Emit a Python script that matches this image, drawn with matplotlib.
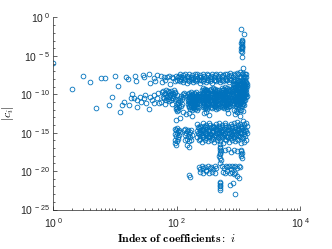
import matplotlib
matplotlib.use("Agg")
import matplotlib.pyplot as plt
from matplotlib.ticker import FixedLocator, FuncFormatter, NullFormatter
import numpy as np

# ---------------- data: index i and log10|c_i| ----------------
sparse_x = [1, 2, 3, 4, 5, 6, 7, 8, 9, 10, 11, 12, 13, 14, 15, 16, 17, 18, 19, 20,
            21, 22, 23, 23, 25, 26, 28, 29, 29, 30, 32, 36, 36, 37, 37, 39, 42, 43, 43, 44,
            47, 48, 50, 52, 55, 57, 58, 59, 61, 64, 65, 67, 69, 73, 74, 78, 78, 83, 83, 88,
            88, 92, 93, 97, 99, 102, 102, 105, 105]
sparse_e = [-5.89, -9.31, -7.58, -8.40, -11.82, -7.84, -7.92, -11.39, -10.39, -7.58, -8.92, -12.34,
            -11.39, -10.96, -7.79, -8.05, -11.39, -10.52, -10.0, -10.52,
            -7.62, -8.31, -10.74, -11.69, -10.31, -10.96, -7.49, -7.79, -10.52, -10.09, -11.09,
            -7.36, -11.96, -8.49, -10.31, -10.74, -10.09, -7.92, -11.17, -8.27,
            -10.52, -7.5, -9.87, -11.17, -7.62, -9.66, -8.4, -10.31, -7.71, -9.87, -8.1, -10.74,
            -7.79, -9.53, -7.6, -10.09, -8.70, -9.79, -7.71, -10.52,
            -7.9, -8.3, -9.66, -7.58, -10.09, -8.14, -11.82, -7.79, -11.17]

s2_x = [60, 63, 66, 70, 74, 78, 82, 86, 90, 94, 62, 68, 72, 76, 80, 85, 89, 95, 56, 65, 75, 84]
s2_e = [-9.6, -9.9, -9.5, -10.2, -9.7, -10.0, -9.6, -9.9, -9.5, -9.8,
        -10.5, -10.3, -10.6, -10.4, -10.8, -10.5, -10.2, -10.6,
        -11.0, -11.2, -10.9, -11.3]

top_x = [108, 112, 118, 124, 131, 137, 144, 152, 160, 168, 176, 185, 195, 205, 216, 227, 239, 251,
         264, 278, 292, 307, 323, 340, 358, 376, 396, 416, 438, 461, 485, 510, 537, 565, 594, 625,
         658, 692, 728, 766, 806, 848, 892, 938, 987, 1038]
top_e1 = [-7.6, -7.4, -7.8, -7.5, -7.7, -7.3, -7.6, -7.8, -7.4, -7.7, -7.5, -7.9, -7.4, -7.6, -7.3,
          -7.7, -7.5, -7.8, -7.4, -7.6, -7.7, -7.3, -7.5, -7.8, -7.6, -7.4, -7.7, -7.5, -7.3, -7.6,
          -7.8, -7.4, -7.6, -7.5, -7.3, -7.7, -7.4, -7.6, -7.2, -7.5, -7.7, -7.3, -7.5, -7.2, -7.4, -7.1]
top_e2 = [-8.1, -8.3, -8.0, -8.4, -8.2, -8.0, -8.5, -8.1, -8.3, -8.0, -8.2, -8.4, -8.1, -8.3, -8.0,
          -8.2, -8.5, -8.1, -8.3, -8.0, -8.4, -8.2, -8.1, -8.3, -8.0, -8.5, -8.2, -8.1, -8.3, -8.0,
          -8.2, -8.4, -8.1, -8.3, -8.0, -8.2, -8.1, -8.4, -8.0, -8.2, -8.3, -8.1, -8.0, -8.2, -8.1, -8.3]

b_x = [96, 98, 100, 103, 106, 108, 111, 114, 117, 120, 124, 128, 132, 136, 100, 105, 110, 115, 120]
b_e = [-11.6, -11.9, -11.2, -11.0, -10.7, -11.4, -10.5, -10.9, -10.2, -10.6, -10.0, -10.3, -9.8,
       -10.1, -12.2, -12.0, -11.7, -11.5, -11.2]

c_x = [152, 158, 163, 170, 176, 183, 190, 197, 205, 212, 220, 228, 236,
       150, 156, 161, 167, 174, 181, 188, 195, 202, 209, 217, 225, 233,
       154, 160, 166, 172, 179, 186, 193, 200, 207, 215, 222, 230,
       158, 165, 171, 178, 185, 192, 199, 206, 214, 221,
       155, 161, 168, 175, 182, 189, 196, 204, 211, 219, 227, 235,
       153, 160, 167, 175, 183, 191, 199, 207, 216, 225,
       160, 170, 180, 190, 200, 210]
c_e = [-10.0, -9.8, -10.1, -9.7, -9.9, -10.2, -9.8, -10.0, -9.7, -10.1, -9.9, -10.2, -10.0,
       -10.6, -10.4, -10.7, -10.5, -10.3, -10.6, -10.8, -10.4, -10.6, -10.5, -10.7, -10.4, -10.6,
       -11.2, -11.0, -11.3, -11.1, -10.9, -11.2, -11.4, -11.0, -11.2, -11.3, -11.0, -11.1,
       -11.7, -11.9, -11.6, -12.0, -11.8, -11.6, -11.9, -11.7, -12.1, -11.8,
       -10.3, -10.2, -10.4, -10.1, -10.3, -10.5, -10.2, -10.4, -10.3, -10.2, -10.4, -10.3,
       -10.9, -10.8, -11.0, -10.7, -10.9, -11.1, -10.8, -10.9, -11.0, -10.8,
       -11.5, -11.4, -11.6, -11.5, -11.4, -11.6]

d_x = [258, 266, 274, 282, 290, 298, 306, 314, 322,
       260, 268, 276, 284, 292, 300, 308, 316, 324,
       262, 270, 278, 286, 294, 302, 310, 318,
       265, 275, 285, 295, 305, 315,
       262, 270, 278, 286, 294, 302, 310, 318, 326,
       258, 266, 274, 282, 290, 298, 306, 314, 322,
       268, 280, 292, 304, 316]
d_e = [-9.4, -9.2, -9.5, -9.3, -9.6, -9.4, -9.7, -9.5, -9.8,
       -10.2, -10.0, -10.3, -10.1, -10.4, -10.2, -10.5, -10.3, -10.6,
       -11.0, -10.8, -11.1, -10.9, -11.2, -11.0, -11.3, -11.1,
       -11.7, -11.5, -11.8, -11.6, -11.9, -11.7,
       -9.8, -9.7, -9.9, -9.6, -9.8, -10.0, -9.7, -9.9, -9.8,
       -10.6, -10.5, -10.7, -10.6, -10.8, -10.5, -10.7, -10.6, -10.8,
       -11.4, -11.3, -11.5, -11.4, -11.3]

e_x = [345, 358, 372, 386, 400, 415, 430, 446, 462, 478, 495,
       350, 364, 378, 393, 408, 423, 438, 454, 470, 487, 504,
       355, 370, 385, 400, 416, 432, 448, 465, 482,
       360, 378, 396, 414, 433, 452, 472,
       352, 366, 380, 394, 408, 423, 438, 454, 470, 487, 504,
       346, 360, 374, 389, 404, 419, 435, 451, 467, 484, 501,
       365, 390, 415, 440, 467, 494]
e_e = [-9.5, -9.3, -9.6, -9.2, -9.4, -9.3, -9.6, -9.4, -9.7, -9.5, -9.8,
       -10.3, -10.1, -10.4, -10.2, -10.0, -10.3, -10.5, -10.2, -10.4, -10.1, -10.3,
       -11.0, -10.8, -11.1, -10.9, -11.2, -11.0, -10.8, -11.1, -11.3,
       -11.6, -11.8, -11.5, -11.7, -11.9, -11.6, -11.8,
       -9.9, -9.8, -10.0, -9.7, -9.9, -9.8, -10.0, -9.9, -10.1, -9.8, -10.0,
       -10.7, -10.6, -10.8, -10.5, -10.7, -10.6, -10.8, -10.7, -10.9, -10.6, -10.7,
       -11.4, -11.3, -11.5, -11.4, -11.3, -11.5]

f_x = [530, 548, 566, 585, 604, 624, 645, 666, 688, 710, 733,
       535, 553, 572, 591, 611, 631, 652, 674, 696, 719,
       540, 560, 580, 600, 621, 643, 665, 688, 712,
       545, 568, 592, 616, 641, 667, 694,
       538, 556, 575, 594, 614, 634, 655, 677, 699, 722,
       532, 550, 569, 588, 608, 628, 649, 671, 693, 716, 738,
       550, 580, 612, 645, 680, 715]
f_e = [-9.4, -9.2, -9.5, -9.3, -9.1, -9.4, -9.2, -9.5, -9.3, -9.6, -9.4,
       -10.2, -10.0, -10.3, -10.1, -10.4, -10.2, -10.0, -10.3, -10.1, -10.4,
       -11.0, -10.8, -11.1, -10.9, -11.2, -11.0, -10.8, -11.1, -10.9,
       -11.7, -11.5, -11.8, -11.6, -11.9, -11.7, -11.5,
       -9.8, -9.7, -9.9, -9.6, -9.8, -9.7, -9.9, -9.8, -10.0, -9.7,
       -10.6, -10.5, -10.7, -10.6, -10.8, -10.5, -10.7, -10.6, -10.8, -10.5, -10.7,
       -11.4, -11.3, -11.5, -11.4, -11.3, -11.5]

g_x = [800, 845, 890, 935, 980, 1025, 1070, 1115, 1160, 1205, 1250, 1300, 1350,
       810, 855, 900, 945, 990, 1035, 1080, 1125, 1170, 1215, 1260, 1310,
       800, 845, 890, 935, 980, 1025, 1070, 1115, 1160, 1205, 1250, 1300, 1350,
       815, 860, 905, 950, 995, 1040, 1085, 1130, 1175, 1220, 1265,
       805, 850, 895, 940, 985, 1030, 1075, 1120, 1165, 1210,
       830, 900, 970, 1040, 1110, 1180,
       980, 1030, 1080, 1130, 1180, 1230, 1280, 1330,
       1060, 1110, 1160, 1210, 1260, 1310,
       1150, 1200, 1250, 1300,
       825, 870, 915, 960, 1005, 1050, 1095, 1140, 1185, 1230, 1280, 1330, 1375,
       790, 835, 880, 925, 970, 1015, 1060, 1105, 1150, 1195, 1240, 1290, 1340,
       825, 870, 915, 960, 1005, 1050, 1095, 1140, 1185, 1230, 1280, 1330,
       790, 835, 880, 925, 970, 1015, 1060, 1105, 1150, 1195, 1240,
       830, 875, 920, 965, 1010, 1055, 1100, 1145, 1190]
g_e = [-9.0, -8.8, -9.1, -8.9, -9.2, -8.8, -9.0, -8.7, -9.1, -8.9, -8.8, -9.0, -8.9,
       -9.6, -9.5, -9.7, -9.4, -9.6, -9.8, -9.5, -9.7, -9.4, -9.6, -9.5, -9.7,
       -10.2, -10.1, -10.3, -10.0, -10.2, -10.4, -10.1, -10.3, -10.0, -10.2, -10.1, -10.3, -10.2,
       -10.8, -10.7, -10.9, -10.6, -10.8, -11.0, -10.7, -10.9, -10.6, -10.8, -10.7,
       -11.4, -11.3, -11.5, -11.2, -11.4, -11.6, -11.3, -11.5, -11.2, -11.4,
       -12.0, -12.2, -11.9, -12.1, -12.0, -12.2,
       -8.4, -8.3, -8.5, -8.2, -8.4, -8.3, -8.1, -8.4,
       -7.8, -7.7, -7.9, -7.6, -7.8, -7.7,
       -7.3, -7.2, -7.4, -7.3,
       -8.7, -8.6, -8.8, -8.5, -8.7, -8.6, -8.8, -8.7, -8.5, -8.6, -8.7, -8.5, -8.6,
       -9.3, -9.2, -9.4, -9.3, -9.1, -9.3, -9.2, -9.4, -9.3, -9.2, -9.3, -9.1, -9.3,
       -9.9, -9.8, -10.0, -9.9, -9.7, -9.9, -9.8, -10.0, -9.9, -9.8, -9.9, -10.0,
       -10.5, -10.4, -10.6, -10.5, -10.3, -10.5, -10.4, -10.6, -10.5, -10.4, -10.5,
       -11.1, -11.0, -11.2, -11.1, -10.9, -11.1, -11.0, -11.2, -11.1]

h_x = [125, 140, 160, 175, 275, 300, 330, 680, 880, 950, 1050, 98, 112]
h_e = [-12.3, -12.6, -12.4, -12.8, -12.5, -12.3, -12.7, -12.4, -12.6, -12.3, -12.8, -13.3, -13.1]

v_x = [1100, 1230, 1120, 1140, 1110, 1130, 1150, 1120, 1140, 1105, 1135, 1125, 1145, 1115, 1130, 1190]
v_e = [-1.5, -2.1, -2.9, -3.1, -3.3, -3.5, -3.7, -3.9, -4.1, -4.3, -4.5, -3.2, -3.8, -4.0, -5.1, -6.6]

i_x = [92, 96, 100, 104, 108, 112, 94, 98, 102, 106, 110, 95, 100, 105, 92, 97]
i_e = [-14.5, -14.7, -14.4, -14.8, -14.6, -14.9, -15.2, -15.4, -15.1, -15.5, -15.3, -15.9, -16.1,
       -15.8, -16.4, -16.6]

j_x = [130, 138, 146, 154, 162, 170, 134, 142, 150, 158, 166, 174, 138, 148, 158, 168, 145, 160]
j_e = [-14.7, -14.5, -14.8, -14.6, -14.9, -14.7, -15.3, -15.1, -15.4, -15.2, -15.5, -15.3,
       -16.0, -15.8, -16.1, -15.9, -16.6, -16.8]

k_x = [215, 241, 270, 302, 338, 379, 424, 475, 532, 596, 668, 748, 838, 938, 1051, 1177, 1318,
       228, 255, 286, 320, 358, 401, 449, 503, 563, 631, 707, 792, 887, 993, 1112, 1246,
       215, 241, 270, 302, 338, 379, 424, 475, 532, 596, 668, 748, 838, 938, 1051, 1177, 1318,
       228, 255, 286, 320, 358, 401, 449, 503, 563, 631, 707, 792, 887, 993, 1112, 1246,
       215, 241, 270, 302, 338, 379, 424, 475, 532, 596, 668, 748, 838, 938, 1051, 1177, 1318,
       228, 255, 286, 320, 358, 401, 449, 503, 563, 631, 707, 792, 887, 993, 1112, 1246,
       222, 248, 278, 311, 348, 390, 436, 489, 548, 614, 688, 770, 862, 965, 1082, 1212, 1350,
       235, 263, 294, 329, 369, 413, 462, 517, 580, 650, 728, 815, 912, 1022, 1145, 1282,
       222, 248, 278, 311, 348, 390, 436, 489, 548, 614, 688, 770, 862, 965, 1082, 1212, 1350,
       235, 263, 294, 329, 369, 413, 462, 517, 580, 650, 728, 815, 912, 1022, 1145, 1282]
k_e = [-13.9, -14.1, -13.8, -14.0, -13.7, -14.1, -13.9, -13.8, -14.0, -13.7, -14.1, -13.9, -13.8,
       -13.6, -13.9, -13.5, -13.7,
       -14.4, -14.5, -14.3, -14.6, -14.4, -14.3, -14.5, -14.4, -14.6, -14.3, -14.5, -14.4, -14.2,
       -14.4, -14.1, -14.3,
       -14.8, -14.9, -14.7, -15.0, -14.8, -14.9, -14.7, -14.9, -14.8, -15.0, -14.7, -14.9, -14.8,
       -14.7, -14.9, -14.6, -14.8,
       -15.2, -15.3, -15.1, -15.4, -15.2, -15.3, -15.1, -15.3, -15.2, -15.4, -15.1, -15.3, -15.2,
       -15.3, -15.1, -15.2,
       -15.6, -15.8, -15.5, -15.7, -15.6, -15.8, -15.5, -15.7, -15.6, -15.8, -15.5, -15.7, -15.6,
       -15.8, -15.6, -15.7, -15.9,
       -16.0, -16.2, -15.9, -16.1, -16.0, -16.2, -15.9, -16.1, -16.3, -16.0, -16.2, -15.9, -16.1,
       -16.0, -16.3, -16.2,
       -14.2, -14.3, -14.1, -14.2, -14.0, -14.3, -14.2, -14.1, -14.3, -14.0, -14.2, -14.1, -14.3,
       -14.0, -14.2, -13.9, -14.1,
       -14.6, -14.7, -14.5, -14.6, -14.8, -14.5, -14.7, -14.6, -14.5, -14.7, -14.6, -14.8, -14.5,
       -14.6, -14.4, -14.6,
       -15.0, -15.1, -14.9, -15.0, -15.2, -14.9, -15.1, -15.0, -14.9, -15.1, -15.0, -15.2, -14.9,
       -15.0, -15.1, -14.9, -15.0,
       -15.4, -15.5, -15.3, -15.4, -15.6, -15.3, -15.5, -15.4, -15.3, -15.5, -15.4, -15.6, -15.3,
       -15.4, -15.5, -15.4]

l_x = [500, 510, 495, 505, 515, 500, 510, 490, 505, 520, 500]
l_e = [-16.5, -16.8, -17.0, -17.2, -17.4, -17.6, -17.8, -18.0, -18.3, -18.6, -18.9]

m_x = [600, 680, 760, 850, 950]
m_e = [-17.3, -17.1, -17.5, -17.2, -17.4]

n_x = [1100, 1110, 1120, 1105, 1115, 1125]
n_e = [-17.2, -17.4, -17.6, -17.8, -18.0, -18.3]

o_x = [155, 165,
       225, 240, 255, 270, 285, 300, 320, 340, 360, 385, 410, 435,
       235, 262, 295, 330, 370, 415,
       545, 580, 620, 660, 700, 745, 790, 840, 890, 945, 1000, 1050,
       560, 610, 660, 715, 770, 830, 890, 960, 1030]
o_e = [-20.5, -20.8,
       -19.5, -19.7, -19.4, -19.6, -19.5, -19.8, -19.4, -19.6, -19.5, -19.7, -19.4, -19.6,
       -20.1, -20.2, -20.0, -20.3, -20.1, -20.2,
       -19.4, -19.6, -19.3, -19.5, -19.4, -19.7, -19.3, -19.5, -19.4, -19.6, -19.3, -19.5,
       -20.1, -20.2, -20.0, -20.3, -20.1, -20.4, -20.2, -20.6, -20.9]

p_x = [500, 505, 495, 510, 500, 505]
p_e = [-21.4, -21.6, -21.8, -22.0, -22.2, -22.5]

q_x = [730, 800, 880]
q_e = [-21.8, -21.5, -23.0]

xs = (sparse_x + s2_x + top_x + top_x + b_x + c_x + d_x + e_x + f_x + g_x + h_x + v_x
      + i_x + j_x + k_x + l_x + m_x + n_x + o_x + p_x + q_x)
es = (sparse_e + s2_e + top_e1 + top_e2 + b_e + c_e + d_e + e_e + f_e + g_e + h_e + v_e
      + i_e + j_e + k_e + l_e + m_e + n_e + o_e + p_e + q_e)
assert len(xs) == len(es)
coef = 10.0 ** np.array(es)

# ---------------- styling ----------------
plt.rcParams['mathtext.fontset'] = 'custom'
plt.rcParams['mathtext.rm'] = 'Liberation Sans'
plt.rcParams['mathtext.it'] = 'Liberation Sans:italic'
plt.rcParams['mathtext.bf'] = 'Liberation Sans:bold'
plt.rcParams['font.family'] = ['Liberation Sans', 'DejaVu Sans']

dark = (0.15, 0.15, 0.15)
fig = plt.figure(figsize=(3.32, 2.49), dpi=100)
ax = fig.add_axes([53.3 / 332, 1 - 209.5 / 249, 247 / 332, 192 / 249])

ax.plot(xs, coef, linestyle='none', marker='o', markersize=3.4, markeredgewidth=0.6,
        markerfacecolor='none', markeredgecolor='#0072BD')

ax.set_xscale('log')
ax.set_yscale('log')
ax.set_xlim(1, 1e4)
ax.set_ylim(1e-25, 1)

ax.xaxis.set_major_locator(FixedLocator([1, 1e2, 1e4]))
ax.xaxis.set_minor_locator(FixedLocator([m * 10.0 ** k for k in range(4) for m in range(1, 10)
                                         if not (m == 1 and k % 2 == 0)]))
ax.yaxis.set_major_locator(FixedLocator([10.0 ** -k for k in range(0, 26, 5)]))
ax.yaxis.set_minor_locator(FixedLocator([10.0 ** -k for k in range(26) if k % 5]))


def fmt(v, pos):
    p = int(round(np.log10(v)))
    return r'$\mathregular{10^{\ %d}}$' % p


ax.xaxis.set_major_formatter(FuncFormatter(fmt))
ax.yaxis.set_major_formatter(FuncFormatter(fmt))
ax.xaxis.set_minor_formatter(NullFormatter())
ax.yaxis.set_minor_formatter(NullFormatter())

ax.tick_params(which='both', direction='in', width=0.5, colors=dark, labelsize=7.5)
ax.tick_params(which='major', length=3)
ax.tick_params(which='minor', length=1.6)
ax.tick_params(axis='x', which='major', pad=5)
ax.tick_params(axis='y', which='major', pad=2)

for s in ['top', 'right']:
    ax.spines[s].set_visible(False)
for s in ['left', 'bottom']:
    ax.spines[s].set_linewidth(0.5)
    ax.spines[s].set_color(dark)

ax.set_xlabel(r'$\mathbf{Index\ of\ coefficients:}\ i$', fontsize=8.5,
              math_fontfamily='cm', color='black', labelpad=2)
ax.set_ylabel(r'$|c_i|$', fontsize=8.5, math_fontfamily='cm', color='black', labelpad=3)

fig.savefig('out.png', dpi=100)
